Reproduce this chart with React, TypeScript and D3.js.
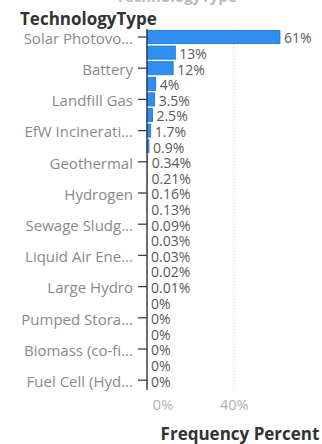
import React from "react";
import * as d3 from "d3";

const categories = [
  "Solar Photovo...", "Wind Onshore", "Battery", "Anaerobic Dig...", "Landfill Gas",
  "Small Hydro", "EfW Incinerati...", "Biomass (ded...", "Geothermal", "Advanced Con...",
  "Hydrogen", "Wind Offshore", "Sewage Sludg...", "Tidal Stream", "Liquid Air Ene...",
  "Compressed Air", "Large Hydro", "Shoreline Wave", "Pumped Stora...", "Flywheels",
  "Biomass (co-fi...", "Hot Dry Rocks", "Fuel Cell (Hyd...",
];
const values = [61, 13, 12, 4, 3.5, 2.5, 1.7, 0.9, 0.34, 0.21, 0.16, 0.13, 0.09, 0.03, 0.03, 0.02, 0.01, 0, 0, 0, 0, 0, 0];
const valueLabels = ["61%", "13%", "12%", "4%", "3.5%", "2.5%", "1.7%", "0.9%", "0.34%", "0.21%", "0.16%", "0.13%", "0.09%", "0.03%", "0.03%", "0.02%", "0.01%", "0%", "0%", "0%", "0%", "0%", "0%"];
const xTicks = [0, 40];

const W = 322, H = 444;
const FONT = "'Open Sans', sans-serif";

export default function App() {
  const x = d3.scaleLinear().domain([0, 100]).range([147, 147 + 218]);
  const y = d3.scaleBand<string>().domain(categories).range([29.2, 29.2 + 15.6 * 23]).paddingInner(0.16).paddingOuter(0.08);
  const axisTop = 29, axisBottom = 390;
  return (
    <svg width={W} height={H} style={{ position: "absolute", left: 0, top: 0 }}>
      <rect width={W} height={H} fill="#fff" />
      <text x={116} y={2} fontFamily={FONT} fontSize={15} fontWeight={700} fill="#bbb">TechnologyType</text>
      <text x={20} y={25} fontFamily={FONT} fontSize={17} fontWeight={700} fill="#333">TechnologyType</text>
      {xTicks.filter(t => t > 0).map(t => (
        <line key={t} x1={x(t)} x2={x(t)} y1={axisTop} y2={axisBottom} stroke="#ccc" strokeDasharray="1,2" />
      ))}
      {categories.map((c, i) => (
        <rect key={c} x={x(0)} y={y(c)!} width={Math.max(0, x(values[i]) - x(0))} height={y.bandwidth()} fill="#2f8ff0" stroke="#1d74d0" strokeWidth={values[i] > 0.5 ? 0.8 : 0} />
      ))}
      <line x1={x(0)} x2={x(0)} y1={axisTop} y2={axisBottom} stroke="#3a3f4a" strokeWidth={1.5} />
      {categories.map((c, i) => i % 2 === 0 ? (
        <g key={c}>
          <line x1={x(0) - 9} x2={x(0)} y1={y(c)! + y.bandwidth() / 2} y2={y(c)! + y.bandwidth() / 2} stroke="#3a3f4a" strokeWidth={1.3} />
          <text x={133} y={y(c)! + y.bandwidth() / 2 + 1.5} dy="0.35em" textAnchor="end" fontFamily={FONT} fontSize={15} fill="#8a8a8a">{c}</text>
        </g>
      ) : null)}
      {categories.map((c, i) => (
        <text key={c + "v"} x={x(values[i]) + 4} y={y(c)! + y.bandwidth() / 2 + 1.5} dy="0.35em" fontFamily={FONT} fontSize={14} fill="#5a5a5a">{valueLabels[i]}</text>
      ))}
      {xTicks.map((t, i) => (
        <text key={t} x={i === 0 ? x(t) + 16 : x(t)} y={410} textAnchor="middle" fontFamily={FONT} fontSize={14.5} fill="#b0b0b0">{t}%</text>
      ))}
      <text x={240} y={440} textAnchor="middle" fontFamily={FONT} fontSize={17} fontWeight={700} fill="#333">Frequency Percent</text>
    </svg>
  );
}
